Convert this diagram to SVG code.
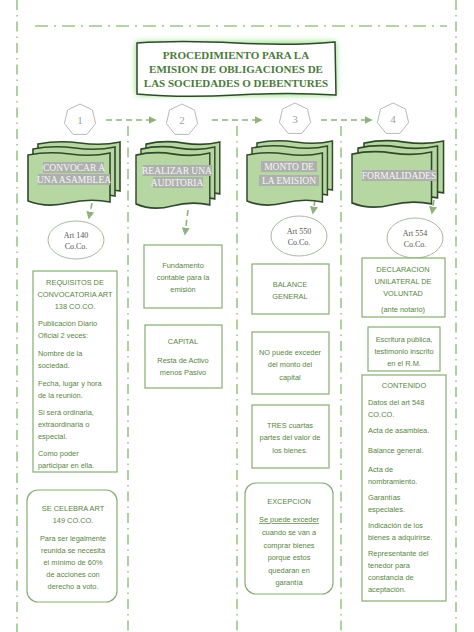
<svg xmlns="http://www.w3.org/2000/svg" width="474" height="632" viewBox="0 0 474 632">
<style>
.frame{fill:none;stroke:#9cc68a;stroke-width:1.6;stroke-dasharray:10 5 1.5 5}
.box{fill:#fff;stroke:#86ad72;stroke-width:1.2}
.t{font-family:"Liberation Sans","Open Sans",sans-serif;font-size:7.4px;fill:#57853f}
.c{text-anchor:middle}
.ttl{font-family:"Liberation Serif",serif;font-weight:bold;font-size:11px;fill:#4b7a3c;text-anchor:middle}
.sheet{fill:#b7d7a2;stroke:#2f4a2b;stroke-width:1.6}
.st{font-family:"Liberation Serif",serif;font-size:9.5px;fill:#f6f6f6;text-anchor:middle}
.hl{fill:#aeb0ad}
.hept{fill:#fff;stroke:#b9b9b9;stroke-width:1}
.num{font-family:"Liberation Serif",serif;font-size:11px;fill:#a0a0a0;text-anchor:middle}
.ell{fill:#fff;stroke:#a9b9a0;stroke-width:1}
.et{font-family:"Liberation Serif",serif;font-size:8px;fill:#555;text-anchor:middle}
.con{fill:none;stroke:#8fb37e;stroke-width:1.6;stroke-dasharray:6 4}
</style>
<defs>
<marker id="ah" viewBox="0 0 10 10" refX="8" refY="5" markerWidth="5" markerHeight="5" orient="auto"><path d="M0,0L10,5L0,10z" fill="#8fb37e"/></marker>
<polygon id="hep" points="0,-16 12.5,-10 15.6,3.6 6.9,14.4 -6.9,14.4 -15.6,3.6 -12.5,-10"/>
<path id="sh" d="M0,2 Q20,-2 42,1 T82,0 L82,49 Q62,45 40,50 T0,48 Z"/>
<filter id="glow" x="-20%" y="-40%" width="140%" height="180%"><feGaussianBlur stdDeviation="3"/></filter>
</defs>

<g id="frame">
<line class="frame" x1="17" y1="0" x2="17" y2="632"/>
<line class="frame" x1="456" y1="0" x2="456" y2="632"/>
<line class="frame" x1="35" y1="26" x2="447" y2="26" style="stroke-dasharray:13 6 2 6"/>
<line class="frame" x1="128" y1="126" x2="128" y2="632"/>
<line class="frame" x1="237" y1="126" x2="237" y2="632"/>
<line class="frame" x1="341" y1="126" x2="341" y2="632"/>
</g>

<g id="title">
<rect x="136" y="42" width="200" height="53" fill="#8fdc78" filter="url(#glow)"/>
<path d="M137,43 Q180,40 236,43 T335,42 L336,95 Q290,92 236,95 T137,94 Z" fill="#fff" stroke="#2d4a2a" stroke-width="1.5"/>
<text class="ttl" x="236" y="59">PROCEDIMIENTO PARA LA</text>
<text class="ttl" x="236" y="73">EMISION DE OBLIGACIONES DE</text>
<text class="ttl" x="236" y="87">LAS SOCIEDADES O DEBENTURES</text>
</g>

<g id="connectors">
<line class="con" x1="106" y1="120" x2="155" y2="120" marker-end="url(#ah)"/>
<line class="con" x1="212" y1="120" x2="261" y2="120" marker-end="url(#ah)"/>
<line class="con" x1="321" y1="120" x2="371" y2="120" marker-end="url(#ah)"/>
<line class="con" x1="92" y1="203" x2="89" y2="218" marker-end="url(#ah)"/>
<line class="con" x1="188" y1="210" x2="185" y2="234" marker-end="url(#ah)"/>
<line class="con" x1="315" y1="200" x2="313" y2="213" marker-end="url(#ah)"/>
<line class="con" x1="434" y1="200" x2="432" y2="213" marker-end="url(#ah)"/>
</g>

<g id="n1">
<use href="#hep" class="hept" x="80" y="120"/>
<text class="num" x="80" y="124">1</text>
</g>
<g id="n2">
<use href="#hep" class="hept" x="182" y="120"/>
<text class="num" x="182" y="124">2</text>
</g>
<g id="n3">
<use href="#hep" class="hept" x="295" y="119"/>
<text class="num" x="295" y="123">3</text>
</g>
<g id="n4">
<use href="#hep" class="hept" x="393" y="119"/>
<text class="num" x="393" y="123">4</text>
</g>

<g id="s1">
<use href="#sh" class="sheet" transform="translate(38,142)"/>
<use href="#sh" class="sheet" transform="translate(33,147)"/>
<use href="#sh" class="sheet" transform="translate(28,153)"/>
<rect class="hl" x="43" y="162" width="61" height="11"/>
<rect class="hl" x="38" y="174" width="72" height="11"/>
<text class="st" x="74" y="171">CONVOCAR A</text>
<text class="st" x="74" y="183">UNA ASAMBLEA</text>
</g>
<g id="s2">
<use href="#sh" class="sheet" transform="translate(146,142) scale(0.9,1.06)"/>
<use href="#sh" class="sheet" transform="translate(141,147) scale(0.9,1.06)"/>
<use href="#sh" class="sheet" transform="translate(136,153) scale(0.9,1.06)"/>
<rect class="hl" x="143" y="165" width="69" height="11"/>
<rect class="hl" x="153" y="177" width="50" height="11"/>
<text class="st" x="177" y="174">REALIZAR UNA</text>
<text class="st" x="177" y="186">AUDITORIA</text>
</g>
<g id="s3">
<use href="#sh" class="sheet" transform="translate(257,141) scale(0.92,1)"/>
<use href="#sh" class="sheet" transform="translate(252,146) scale(0.92,1)"/>
<use href="#sh" class="sheet" transform="translate(247,153) scale(0.92,1)"/>
<rect class="hl" x="261" y="161" width="56" height="11"/>
<rect class="hl" x="259" y="175" width="60" height="11"/>
<text class="st" x="289" y="170">MONTO DE</text>
<text class="st" x="289" y="184">LA EMISION</text>
</g>
<g id="s4">
<use href="#sh" class="sheet" transform="translate(364,141) scale(0.97,1.06)"/>
<use href="#sh" class="sheet" transform="translate(358,146) scale(0.97,1.06)"/>
<use href="#sh" class="sheet" transform="translate(352,152) scale(0.97,1.06)"/>
<rect class="hl" x="362" y="170" width="74" height="11"/>
<text class="st" x="399" y="179">FORMALIDADES</text>
</g>

<g id="e1">
<ellipse class="ell" cx="76" cy="240" rx="28" ry="19"/>
<text class="et" x="76" y="238">Art 140</text>
<text class="et" x="76" y="249">Co.Co.</text>
</g>
<g id="e3">
<ellipse class="ell" cx="299" cy="236" rx="28" ry="20"/>
<text class="et" x="299" y="234">Art 550</text>
<text class="et" x="299" y="245">Co.Co.</text>
</g>
<g id="e4">
<ellipse class="ell" cx="415" cy="238" rx="28" ry="20"/>
<text class="et" x="415" y="236">Art 554</text>
<text class="et" x="415" y="247">Co.Co.</text>
</g>

<g id="b1">
<rect class="box" x="33" y="271" width="84" height="201"/>
<text class="t c" x="75" y="285">REQUISITOS DE</text>
<text class="t c" x="75" y="297">CONVOCATORIA ART</text>
<text class="t c" x="75" y="309">138 CO.CO.</text>
<text class="t" x="38" y="326">Publicación Diario</text>
<text class="t" x="38" y="338">Oficial 2 veces:</text>
<text class="t" x="38" y="356">Nombre de la</text>
<text class="t" x="38" y="368">sociedad.</text>
<text class="t" x="38" y="386">Fecha, lugar y hora</text>
<text class="t" x="38" y="398">de la reunión.</text>
<text class="t" x="38" y="415">Si será ordinaria,</text>
<text class="t" x="38" y="427">extraordinaria o</text>
<text class="t" x="38" y="439">especial.</text>
<text class="t" x="38" y="456">Como poder</text>
<text class="t" x="38" y="468">participar en ella.</text>
</g>
<g id="b1b">
<rect class="box" x="27" y="490" width="90" height="112" rx="11"/>
<text class="t c" x="73" y="511">SE CELEBRA ART</text>
<text class="t c" x="73" y="523">149 CO.CO.</text>
<text class="t c" x="73" y="541">Para ser legalmente</text>
<text class="t c" x="73" y="553">reunida se necesita</text>
<text class="t c" x="73" y="565">el mínimo de 60%</text>
<text class="t c" x="73" y="577">de acciones con</text>
<text class="t c" x="73" y="589">derecho a voto.</text>
</g>

<g id="b2">
<rect class="box" x="144" y="245" width="78" height="63"/>
<text class="t c" x="183" y="268">Fundamento</text>
<text class="t c" x="183" y="280">contable para la</text>
<text class="t c" x="183" y="292">emisión</text>
</g>
<g id="b2b">
<rect class="box" x="145" y="325" width="77" height="63"/>
<text class="t c" x="183" y="344">CAPITAL</text>
<text class="t c" x="183" y="363">Resta de Activo</text>
<text class="t c" x="183" y="375">menos Pasivo</text>
</g>

<g id="b3">
<rect class="box" x="252" y="264" width="77" height="50"/>
<text class="t c" x="290" y="287">BALANCE</text>
<text class="t c" x="290" y="299">GENERAL</text>
</g>
<g id="b3b">
<rect class="box" x="252" y="332" width="77" height="62"/>
<text class="t c" x="290" y="355">NO puede exceder</text>
<text class="t c" x="290" y="367">del monto del</text>
<text class="t c" x="290" y="380">capital</text>
</g>
<g id="b3c">
<rect class="box" x="252" y="405" width="77" height="63"/>
<text class="t c" x="290" y="428">TRES cuartas</text>
<text class="t c" x="290" y="440">partes del valor de</text>
<text class="t c" x="290" y="453">los bienes.</text>
</g>
<g id="b3d">
<rect class="box" x="245" y="483" width="88" height="111" rx="11"/>
<text class="t c" x="289" y="504">EXCEPCION</text>
<text class="t c" x="289" y="522" text-decoration="underline">Se puede exceder</text>
<text class="t c" x="289" y="535">cuando se van a</text>
<text class="t c" x="289" y="548">comprar bienes</text>
<text class="t c" x="289" y="560">porque estos</text>
<text class="t c" x="289" y="573">quedaran en</text>
<text class="t c" x="289" y="585">garantía</text>
</g>

<g id="b4">
<rect class="box" x="362" y="258" width="83" height="59"/>
<text class="t c" x="403" y="272">DECLARACION</text>
<text class="t c" x="403" y="284">UNILATERAL DE</text>
<text class="t c" x="403" y="296">VOLUNTAD</text>
<text class="t c" x="403" y="312">(ante notario)</text>
</g>
<g id="b4b">
<rect class="box" x="368" y="327" width="72" height="44"/>
<text class="t c" x="404" y="342">Escritura pública,</text>
<text class="t c" x="404" y="354">testimonio inscrito</text>
<text class="t c" x="404" y="366">en el R.M.</text>
</g>
<g id="b4c">
<rect class="box" x="362" y="375" width="84" height="226"/>
<text class="t c" x="404" y="388">CONTENIDO</text>
<text class="t" x="368" y="405">Datos del art 548</text>
<text class="t" x="368" y="417">CO.CO.</text>
<text class="t" x="368" y="433">Acta de asamblea.</text>
<text class="t" x="368" y="453">Balance general.</text>
<text class="t" x="368" y="472">Acta de</text>
<text class="t" x="368" y="484">nombramiento.</text>
<text class="t" x="368" y="500">Garantías</text>
<text class="t" x="368" y="512">especiales.</text>
<text class="t" x="368" y="528">Indicación de los</text>
<text class="t" x="368" y="540">bienes a adquirirse.</text>
<text class="t" x="368" y="556">Representante del</text>
<text class="t" x="368" y="568">tenedor para</text>
<text class="t" x="368" y="580">constancia de</text>
<text class="t" x="368" y="592">aceptación.</text>
</g>
</svg>
